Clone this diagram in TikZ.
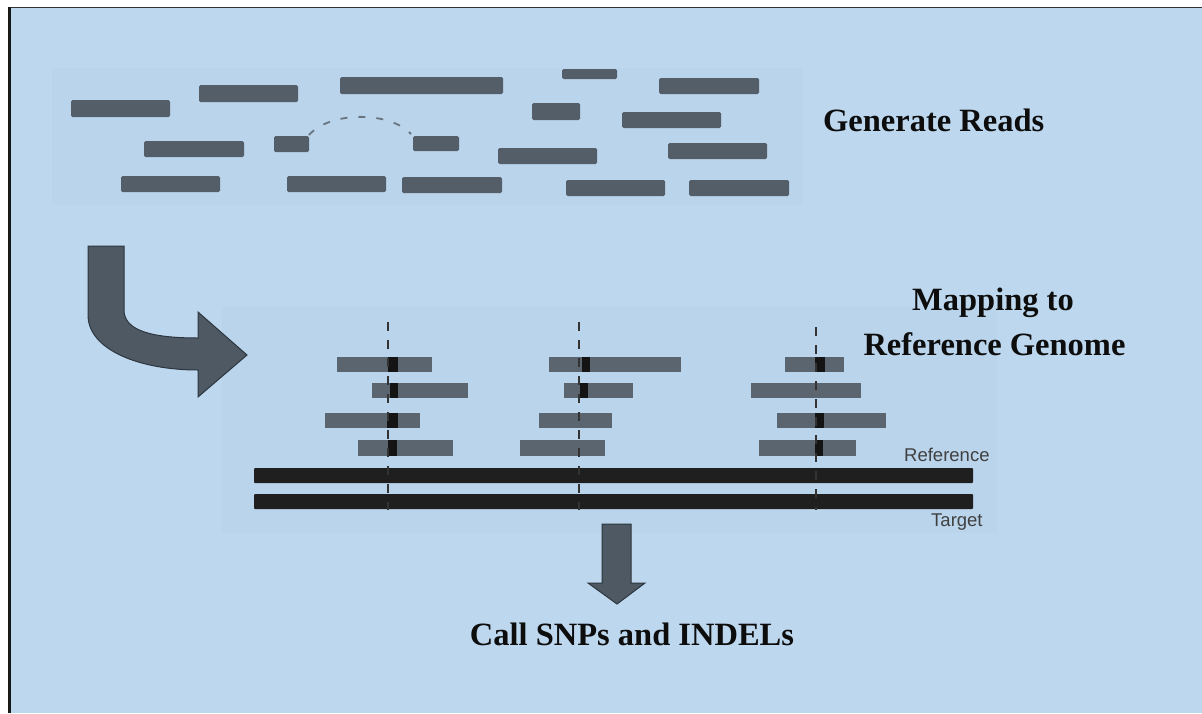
\documentclass[tikz,border=0pt]{standalone}
\usepackage{fontspec}
\setmainfont{Liberation Serif}
\newfontfamily\labelfont{Liberation Sans}
\definecolor{bgblue}{RGB}{189,215,238}
\definecolor{panelblue}{RGB}{186,212,236}
\definecolor{readgrey}{RGB}{83,94,105}
\definecolor{mapgrey}{RGB}{90,101,112}
\definecolor{arrowfill}{RGB}{78,89,100}
\definecolor{arrowline}{RGB}{45,54,63}
\definecolor{dashgrey}{RGB}{105,118,130}
\tikzset{
  readbar/.style={fill=readgrey, rounded corners=1.5pt},
  mapbar/.style={fill=mapgrey},
  genbar/.style={fill=black!88, rounded corners=1pt},
  snpmark/.style={fill=black!92},
  blockarrow/.style={fill=arrowfill, draw=arrowline, line width=1pt, line join=miter},
  title/.style={font=\bfseries\fontsize{32.5}{43}\selectfont, text=black!95, inner sep=0pt},
  small/.style={font=\labelfont\fontsize{18.5}{22}\selectfont, text=black!75, inner sep=0pt},
  snpline/.style={draw=black!80, line width=1.4pt, dash pattern=on 9pt off 9pt},
}
\begin{document}
\begin{tikzpicture}[x=1pt,y=-1pt]
\useasboundingbox (0,0) rectangle (1202,713);
\fill[white] (0,0) rectangle (1202,713);
\fill[bgblue] (9,7) rectangle (1202,713);
\draw[black!80, line width=1.5pt] (9,7.5) -- (1202,7.5);
\draw[black!90, line width=2.5pt] (9.5,7) -- (9.5,713);
% panels
\fill[panelblue] (52,68) rectangle (803,205);
\fill[panelblue] (222,306) rectangle (997,533);
% generated reads
\foreach \a/\b/\c/\d in {71/100/170/117, 199/85/298/102, 340/77/503/94, 562/69/617/79,
  659/78/759/94, 532/103/580/120, 622/112/721/128, 144/141/244/157, 274/136/309/152,
  413/136/459/151, 498/148/597/164, 668/143/767/159, 121/176/220/192, 287/176/386/192,
  402/177/502/193, 566/180/665/196, 689/180/789/196}
  \fill[readbar] (\a,\b) rectangle (\c,\d);
\draw[dashgrey, line width=1.8pt, dash pattern=on 7pt off 11pt]
  (309,135) .. controls (330,111) and (390,111) .. (411,134);
% curved arrow
\draw[blockarrow] (88,246) -- (124,246) -- (124,310)
  .. controls (124,330) and (150,338) .. (198,338) -- (198,312) -- (247,355)
  -- (198,397) -- (198,370) .. controls (140,370) and (88,350) .. (88,315) -- cycle;
% mapped reads
\foreach \a/\b/\c/\d in {337/357/432/372, 372/383/468/398, 325/413/420/428, 358/440/453/456,
  549/357/681/372, 564/383/633/398, 539/413/612/428, 520/440/605/456,
  785/357/844/372, 751/383/861/398, 777/413/886/428, 759/440/856/456}
  \fill[mapbar] (\a,\b) rectangle (\c,\d);
\fill[genbar] (254,468) rectangle (973,483);
\fill[genbar] (254,494) rectangle (973,509);
% SNP marks
\foreach \a/\b/\c/\d in {388/357/398/372, 390/383/398/398, 387/413/398/428, 388/440/397/456,
  582/357/590/372, 580/383/588/398, 815/357/825/372, 815/413/824/428, 815/440/823/456}
  \fill[snpmark] (\a,\b) rectangle (\c,\d);
\draw[snpline] (388,322) -- (388,510);
\draw[snpline] (579,322) -- (579,510);
\draw[snpline] (816,327) -- (816,510);
% down arrow
\draw[blockarrow] (602,524) -- (631,524) -- (631,583) -- (645,583) -- (617,604)
  -- (588,583) -- (602,583) -- cycle;
% labels
\node[title, anchor=base west] (gen) at (823,131) {Generate Reads};
\node[title, anchor=base] (map1) at (993,310) {Mapping to};
\node[title, anchor=base] (map2) at (994.5,355) {Reference Genome};
\node[title, anchor=base] (call) at (632,645) {Call SNPs and INDELs};
\node[small, anchor=base west] (ref) at (904,461) {Reference};
\node[small, anchor=base west] (tgt) at (931,526) {Target};
\end{tikzpicture}
\end{document}
